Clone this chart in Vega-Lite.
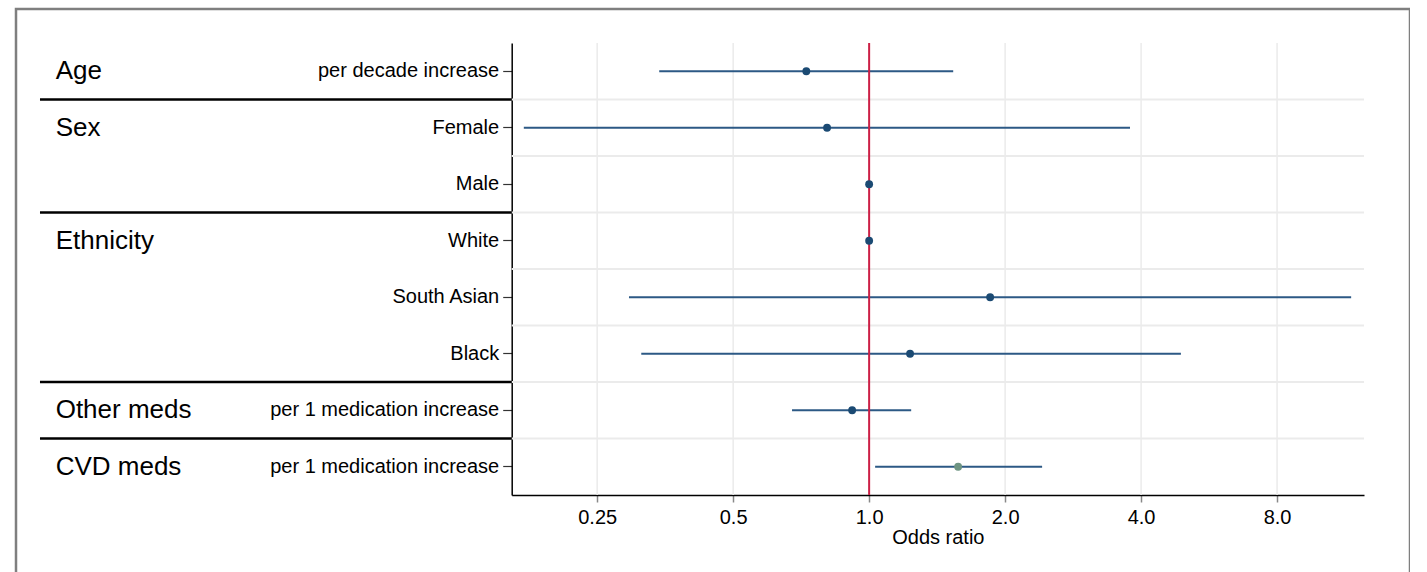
{
  "$schema": "https://vega.github.io/schema/vega-lite/v6.json",
  "width": 1394,
  "height": 578,
  "autosize": {"type": "none"},
  "padding": {"left": 16, "top": 9, "right": 0, "bottom": 0},
  "background": "white",
  "config": {
    "font": "Liberation Sans",
    "view": {"stroke": "#7f7f7f", "strokeWidth": 2.5}
  },
  "datasets": {
    "rows": [
      {"key": "Age|per decade increase", "or": 0.726, "lo": 0.343, "hi": 1.535, "kind": "a"},
      {"key": "Sex|Female", "or": 0.807, "lo": 0.172, "hi": 3.78, "kind": "a"},
      {"key": "Sex|Male", "or": 1, "kind": "a"},
      {"key": "Ethnicity|White", "or": 1, "kind": "a"},
      {"key": "Ethnicity|South Asian", "or": 1.853, "lo": 0.294, "hi": 11.67, "kind": "a"},
      {"key": "Ethnicity|Black", "or": 1.232, "lo": 0.313, "hi": 4.9, "kind": "a"},
      {"key": "Other meds|per 1 medication increase", "or": 0.917, "lo": 0.675, "hi": 1.239, "kind": "a"},
      {"key": "CVD meds|per 1 medication increase", "or": 1.574, "lo": 1.031, "hi": 2.415, "kind": "b"}
    ],
    "groups": [
      {"key": "Age|per decade increase", "group": "Age"},
      {"key": "Sex|Female", "group": "Sex"},
      {"key": "Ethnicity|White", "group": "Ethnicity"},
      {"key": "Other meds|per 1 medication increase", "group": "Other meds"},
      {"key": "CVD meds|per 1 medication increase", "group": "CVD meds"}
    ],
    "seps": [
      {"key": "Sex|Female"},
      {"key": "Ethnicity|White"},
      {"key": "Other meds|per 1 medication increase"},
      {"key": "CVD meds|per 1 medication increase"}
    ],
    "gridrows": [
      {"key": "Sex|Female"},
      {"key": "Sex|Male"},
      {"key": "Ethnicity|White"},
      {"key": "Ethnicity|South Asian"},
      {"key": "Ethnicity|Black"},
      {"key": "Other meds|per 1 medication increase"},
      {"key": "CVD meds|per 1 medication increase"}
    ],
    "gridvals": [
      {"v": 0.25}, {"v": 0.5}, {"v": 1}, {"v": 2}, {"v": 4}, {"v": 8}
    ]
  },
  "layer": [
    {
      "data": {"name": "gridvals"},
      "mark": {"type": "rule", "color": "#ebebeb", "strokeWidth": 1.5},
      "encoding": {
        "x": {"field": "v", "type": "quantitative", "axis": null,
              "scale": {"type": "log", "domain": [0.1617, 12.46], "range": [495.7, 1348], "nice": false}},
        "y": {"datum": 0, "type": "quantitative", "axis": null,
              "scale": {"type": "linear", "domain": [0, 1], "range": [34, 486], "nice": false, "zero": false}},
        "y2": {"datum": 1}
      }
    },
    {
      "layer": [
        {
          "data": {"name": "gridrows"},
          "mark": {"type": "rule", "color": "#ebebeb", "strokeWidth": 2},
          "encoding": {
            "x": {"datum": 0.1617, "type": "quantitative", "axis": null,
                  "scale": {"type": "log", "domain": [0.1617, 12.46], "range": [495.7, 1348], "nice": false}},
            "x2": {"datum": 12.46},
            "y": {"field": "key", "type": "nominal", "bandPosition": 0, "axis": null,
                  "scale": {"type": "band", "domain": [
                    "Age|per decade increase", "Sex|Female", "Sex|Male", "Ethnicity|White",
                    "Ethnicity|South Asian", "Ethnicity|Black",
                    "Other meds|per 1 medication increase", "CVD meds|per 1 medication increase"],
                    "range": [34, 486], "paddingInner": 0, "paddingOuter": 0}}
          }
        },
        {
          "data": {"name": "rows"},
          "mark": {"type": "rule", "color": "#2c5985", "strokeWidth": 2},
          "encoding": {
            "x": {"field": "lo", "type": "quantitative", "axis": null},
            "x2": {"field": "hi"},
            "y": {"field": "key", "type": "nominal", "axis": null}
          }
        }
      ]
    },
    {
      "data": {"values": [{"ref": 1}]},
      "mark": {"type": "rule", "color": "#cc1f45", "strokeWidth": 2},
      "encoding": {
        "x": {"field": "ref", "type": "quantitative", "axis": null,
              "scale": {"type": "log", "domain": [0.1617, 12.46], "range": [495.7, 1348], "nice": false}},
        "y": {"datum": 0, "type": "quantitative", "axis": null,
              "scale": {"type": "linear", "domain": [0, 1], "range": [34, 486], "nice": false, "zero": false}},
        "y2": {"datum": 1}
      }
    },
    {
      "data": {"name": "rows"},
      "mark": {"type": "point", "filled": true, "opacity": 1, "size": 62},
      "encoding": {
        "x": {"field": "or", "type": "quantitative",
              "scale": {"type": "log", "domain": [0.1617, 12.46], "range": [495.7, 1348], "nice": false},
              "axis": {
                "orient": "bottom", "offset": -92, "title": "Odds ratio",
                "values": [0.25, 0.5, 1, 2, 4, 8],
                "labelExpr": "datum.value == 0.25 ? '0.25' : format(datum.value, '.1f')",
                "labelFontSize": 20, "labelColor": "black", "labelPadding": 5,
                "tickSize": 7, "tickColor": "#888888", "tickWidth": 1.5,
                "domainColor": "black", "domainWidth": 1.5, "grid": false,
                "titleFontSize": 20, "titleFontWeight": "normal", "titleColor": "black", "titlePadding": 0
              }},
        "y": {"field": "key", "type": "nominal",
              "scale": {"type": "band", "domain": [
                "Age|per decade increase", "Sex|Female", "Sex|Male", "Ethnicity|White",
                "Ethnicity|South Asian", "Ethnicity|Black",
                "Other meds|per 1 medication increase", "CVD meds|per 1 medication increase"],
                "range": [34, 486], "paddingInner": 0, "paddingOuter": 0},
              "axis": {
                "orient": "left", "offset": -495.7, "title": null,
                "labelExpr": "split(datum.label, '|')[1]",
                "labelFontSize": 20, "labelColor": "black", "labelLimit": 400,
                "labelPadding": 4, "tickSize": 9, "tickColor": "#333333", "tickWidth": 1.2,
                "domainColor": "black", "domainWidth": 1.5, "grid": false
              }},
        "color": {"field": "kind", "type": "nominal",
                  "scale": {"domain": ["a", "b"], "range": ["#1b4a73", "#6e9482"]},
                  "legend": null}
      }
    },
    {
      "layer": [
        {
          "data": {"name": "seps"},
          "mark": {"type": "rule", "color": "black", "strokeWidth": 2.5},
          "encoding": {
            "x": {"datum": 0.0484, "type": "quantitative", "axis": null,
                  "scale": {"type": "linear", "domain": [0, 1], "range": [0, 495.7], "nice": false, "zero": false}},
            "x2": {"datum": 1},
            "y": {"field": "key", "type": "nominal", "bandPosition": 0, "axis": null,
                  "scale": {"type": "band", "domain": [
                    "Age|per decade increase", "Sex|Female", "Sex|Male", "Ethnicity|White",
                    "Ethnicity|South Asian", "Ethnicity|Black",
                    "Other meds|per 1 medication increase", "CVD meds|per 1 medication increase"],
                    "range": [34, 486], "paddingInner": 0, "paddingOuter": 0}}
          }
        },
        {
          "data": {"name": "groups"},
          "mark": {"type": "text", "align": "left", "baseline": "middle", "fontSize": 26, "color": "black"},
          "encoding": {
            "x": {"datum": 0.08, "type": "quantitative", "axis": null},
            "y": {"field": "key", "type": "nominal", "axis": null},
            "text": {"field": "group"}
          }
        }
      ]
    }
  ],
  "resolve": {
    "scale": {"x": "independent", "y": "independent"},
    "axis": {"x": "independent", "y": "independent"}
  }
}
